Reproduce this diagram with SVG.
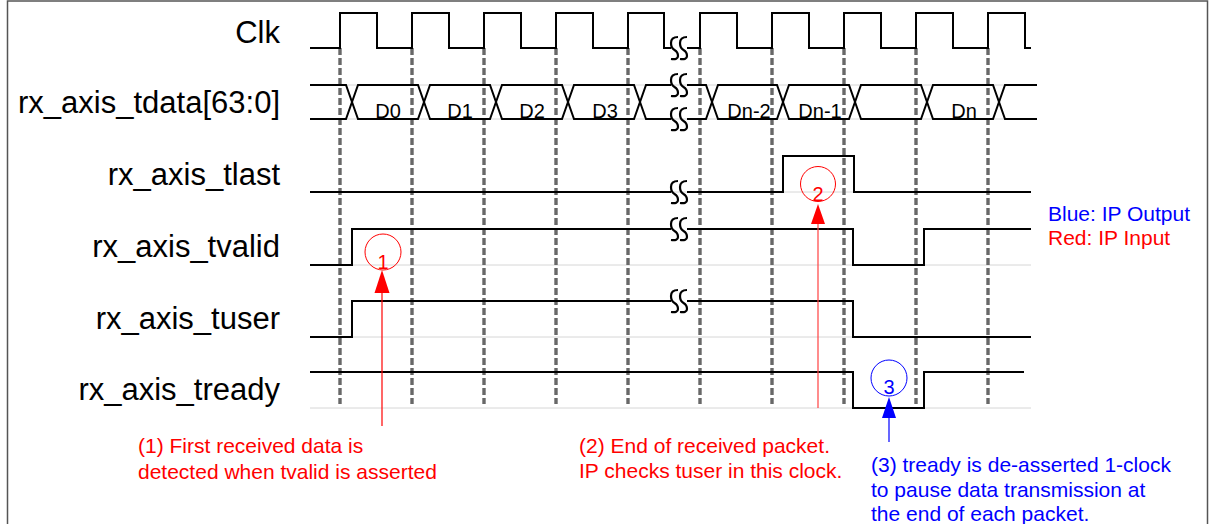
<svg xmlns="http://www.w3.org/2000/svg" width="1211" height="524" viewBox="0 0 1211 524">
<style>
  text { font-family: "Liberation Sans", Arial, sans-serif; }
  .lbl { font-size: 31px; fill: #000; text-anchor: end; }
  .dl { font-size: 20px; fill: #000; text-anchor: middle; }
  .sig { fill: none; stroke: #000; stroke-width: 2; }
  .faint { fill: none; stroke: #d6d6d6; stroke-width: 1; }
  .brk { fill: none; stroke: #000; stroke-width: 2.2; }
  .grid { stroke: #686868; stroke-width: 3.4; stroke-dasharray: 7 3; }
  .red { fill: #ff0000; font-size: 21px; }
  .blue { fill: #0000ff; font-size: 21px; }
  .num { font-size: 20px; text-anchor: middle; }
</style>
<defs>
  <path id="brkSym" d="M-1,-11 Q-8,-11 -8,-5 Q-8,0 -4.5,2 Q-1,4 -1,8 Q-1,12 -8,11
                      M8,-11 Q1,-11 1,-5 Q1,0 4.5,2 Q8,4 8,8 Q8,12 1,11"/>
</defs>
<rect x="0" y="0" width="1211" height="524" fill="#fff"/>
<rect x="7.5" y="1" width="1200" height="540" fill="none" stroke="#555" stroke-width="1.5"/>

<g id="labels">
  <text class="lbl" x="280" y="43">Clk</text>
  <text class="lbl" x="280" y="113">rx_axis_tdata[63:0]</text>
  <text class="lbl" x="280" y="185">rx_axis_tlast</text>
  <text class="lbl" x="280" y="257">rx_axis_tvalid</text>
  <text class="lbl" x="280" y="329">rx_axis_tuser</text>
  <text class="lbl" x="280" y="400">rx_axis_tready</text>
</g>

<g id="faint-lines">
  <path class="faint" d="M310,85 H1037 M310,119 H1037 M310,192 H1031 M352,265 H1031 M352,337 H1031 M310,408 H1031"/>
</g>

<g id="clock-grid">
  <line class="grid" x1="340" y1="48" x2="340" y2="404"/>
  <line class="grid" x1="412" y1="48" x2="412" y2="404"/>
  <line class="grid" x1="484" y1="48" x2="484" y2="404"/>
  <line class="grid" x1="556" y1="48" x2="556" y2="404"/>
  <line class="grid" x1="628" y1="48" x2="628" y2="404"/>
  <line class="grid" x1="700" y1="48" x2="700" y2="404"/>
  <line class="grid" x1="772" y1="48" x2="772" y2="404"/>
  <line class="grid" x1="844" y1="48" x2="844" y2="404"/>
  <line class="grid" x1="916" y1="48" x2="916" y2="404"/>
  <line class="grid" x1="988" y1="48" x2="988" y2="404"/>
</g>

<g id="clk">
  <path class="sig" d="M310,48 H340 V13 H377 V48 H412 V13 H449 V48 H484 V13 H521 V48 H556 V13 H593 V48 H628 V13 H664 V48 H671"/>
  <path class="sig" d="M687,48 H700 V13 H737 V48 H772 V13 H809 V48 H844 V13 H881 V48 H916 V13 H953 V48 H988 V13 H1025 V48 H1031"/>
  <use href="#brkSym" class="brk" x="679" y="48"/>
</g>

<g id="tdata">
  <path class="sig" d="M310,85 H346 L358,119 H418 L430,85 H490 L502,119 H562 L574,85 H634 L646,119 H671
                       M687,119 H706 L718,85 H777 L789,119 H849 L861,85 H921 L933,119 H993 L1005,85 H1037"/>
  <path class="sig" d="M310,119 H346 L358,85 H418 L430,119 H490 L502,85 H562 L574,119 H634 L646,85 H671
                       M687,85 H706 L718,119 H777 L789,85 H849 L861,119 H921 L933,85 H993 L1005,119 H1037"/>
  <use href="#brkSym" class="brk" x="679" y="85"/>
  <use href="#brkSym" class="brk" x="679" y="119"/>
  <text class="dl" x="388" y="118">D0</text>
  <text class="dl" x="460" y="118">D1</text>
  <text class="dl" x="532" y="118">D2</text>
  <text class="dl" x="605" y="118">D3</text>
  <text class="dl" x="749" y="118">Dn-2</text>
  <text class="dl" x="820" y="118">Dn-1</text>
  <text class="dl" x="964" y="118">Dn</text>
</g>

<g id="tlast">
  <path class="sig" d="M310,192 H671 M687,192 H783 V156 H854 V192 H1031"/>
  <use href="#brkSym" class="brk" x="679" y="192"/>
</g>

<g id="tvalid">
  <path class="sig" d="M310,265 H352 V229 H671 M687,229 H853 V265 H924 V229 H1031"/>
  <use href="#brkSym" class="brk" x="679" y="229"/>
</g>

<g id="tuser">
  <path class="sig" d="M310,337 H352 V301 H671 M687,301 H853 V337 H1031"/>
  <use href="#brkSym" class="brk" x="679" y="301"/>
</g>

<g id="tready">
  <path class="sig" d="M310,372 H853 V408 H924 V372 H1024"/>
</g>

<g id="legend">
  <text class="blue" x="1048" y="221">Blue: IP Output</text>
  <text class="red" x="1048" y="245">Red: IP Input</text>
</g>

<g id="note1">
  <circle cx="383" cy="252" r="18" fill="none" stroke="#ff0000" stroke-width="1"/>
  <text class="num" x="383" y="269" fill="#ff0000">1</text>
  <line x1="382" y1="292" x2="382" y2="426" stroke="#ff0000" stroke-width="1.2"/>
  <polygon points="382,270 374.5,293 389.5,293" fill="#ff0000"/>
  <text class="red" x="138" y="453">(1) First received data is</text>
  <text class="red" x="138" y="479">detected when tvalid is asserted</text>
</g>

<g id="note2">
  <circle cx="818" cy="184" r="17.5" fill="none" stroke="#ff0000" stroke-width="1"/>
  <text class="num" x="818" y="201" fill="#ff0000">2</text>
  <line x1="818" y1="223" x2="818" y2="408" stroke="#ff4040" stroke-width="1.2"/>
  <polygon points="818,204 811,224 825,224" fill="#ff0000"/>
  <text class="red" x="579" y="453">(2) End of received packet.</text>
  <text class="red" x="579" y="478">IP checks tuser in this clock.</text>
</g>

<g id="note3">
  <circle cx="889" cy="378" r="18" fill="none" stroke="#0000ff" stroke-width="1"/>
  <text class="num" x="889" y="394" fill="#0000ff">3</text>
  <line x1="889" y1="417" x2="889" y2="442" stroke="#0000ff" stroke-width="1.2"/>
  <polygon points="889,397 882,418 896,418" fill="#0000ff"/>
  <text class="blue" x="871" y="472">(3) tready is de-asserted 1-clock</text>
  <text class="blue" x="871" y="496.5">to pause data transmission at</text>
  <text class="blue" x="871" y="521">the end of each packet.</text>
</g>
</svg>
